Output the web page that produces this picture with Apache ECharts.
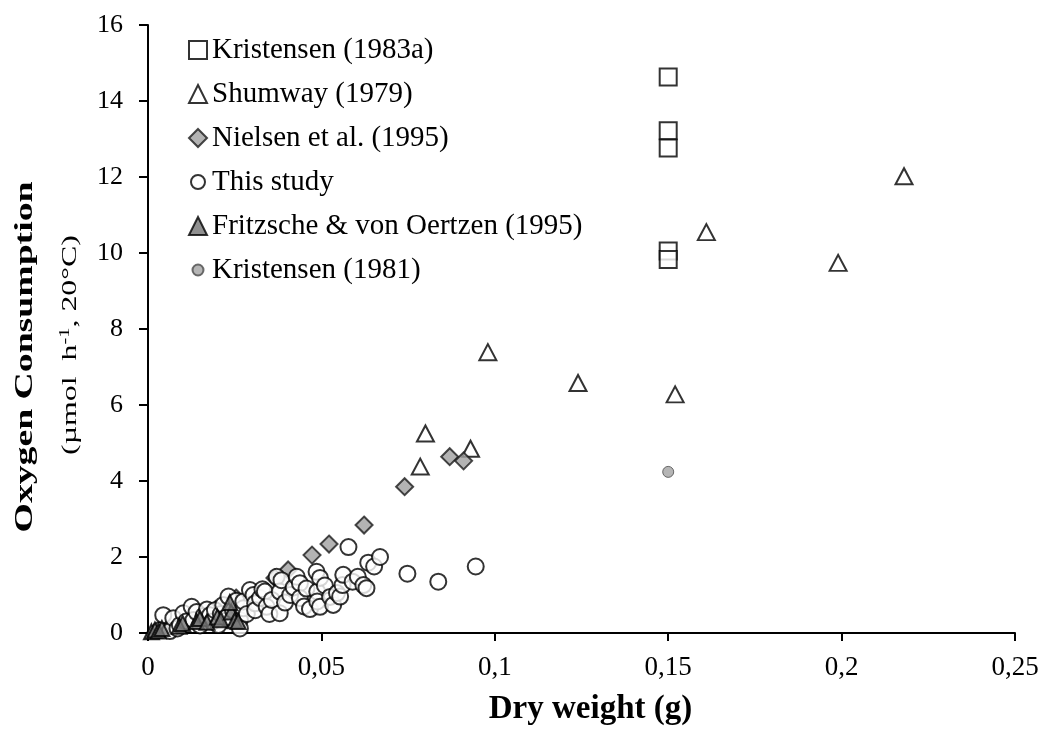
<!DOCTYPE html>
<html>
<head>
<meta charset="utf-8">
<script src="https://cdn.jsdelivr.net/npm/echarts@6/dist/echarts.min.js"></script>
<style>
html,body{margin:0;padding:0;background:#fff;}
#chart{width:1058px;height:730px;}
</style>
</head>
<body>
<div id="chart"></div>
<script>
// ---- data ----
const seriesNames = ['Kristensen (1983a)', 'Shumway (1979)', 'Nielsen et al. (1995)', 'This study', 'Fritzsche & von Oertzen (1995)', 'Kristensen (1981)'];
const xTickValues = [0, 0.05, 0.1, 0.15, 0.2, 0.25];
const yTickValues = [0, 2, 4, 6, 8, 10, 12, 14, 16];
const xTitle = 'Dry weight (g)';
const yTitle1 = 'Oxygen Consumption';
const yTitle2 = '(µmol  h{sup|-1}, 20°C)';

const kristensen1983a = [[0.15,14.63],[0.15,13.22],[0.15,12.76],[0.15,10.05],[0.15,9.83]];
const shumway1979 = [[0.218,12.02],[0.199,9.74],[0.161,10.55],[0.098,7.39],[0.124,6.58],[0.152,6.28],[0.080,5.25],[0.093,4.85],[0.0785,4.38]];
const nielsen1995 = [[0.087,4.64],[0.091,4.53],[0.074,3.85],[0.0623,2.84],[0.0522,2.34],[0.0473,2.05],[0.0404,1.66],[0.0366,1.45],[0.0254,0.92],[0.0195,0.62]];
const thisStudy = [
 [0.0035,0.08],[0.0044,0.47],[0.0063,0.05],[0.0073,0.39],[0.0085,0.12],[0.0092,0.21],[0.0102,0.52],[0.0110,0.30],
 [0.0126,0.69],[0.0131,0.34],[0.0140,0.55],[0.0150,0.20],[0.0160,0.45],[0.0170,0.62],[0.0179,0.47],[0.0185,0.30],
 [0.0193,0.60],[0.0203,0.21],[0.0210,0.50],[0.0217,0.74],[0.0225,0.40],[0.0232,0.96],[0.0245,0.60],[0.0255,0.85],
 [0.0265,0.34],[0.0265,0.12],[0.0275,0.65],[0.0275,0.83],[0.0285,0.50],[0.0294,1.13],[0.0304,1.00],[0.0309,0.78],
 [0.0309,0.60],[0.0323,0.92],[0.0330,1.15],[0.0337,1.09],[0.0342,0.69],[0.0350,0.50],[0.0357,0.87],[0.0371,1.48],
 [0.0380,1.09],[0.0380,0.52],[0.0385,1.39],[0.0395,0.80],[0.0410,1.00],[0.0420,1.20],[0.0429,1.48],[0.0438,1.31],
 [0.0438,0.92],[0.0450,0.70],[0.0457,1.17],[0.0467,0.63],[0.0486,1.61],[0.0488,1.09],[0.0488,0.83],[0.0496,1.45],
 [0.0496,0.69],[0.0510,1.25],[0.0525,0.95],[0.0534,0.74],[0.0545,1.05],[0.0554,0.96],[0.0561,1.26],[0.0563,1.53],
 [0.0578,2.26],[0.0590,1.35],[0.0605,1.48],[0.0621,1.26],[0.0630,1.18],[0.0635,1.85],[0.0652,1.75],[0.0669,2.00],
 [0.0748,1.56],[0.0837,1.35],[0.0945,1.75]
];
const fritzsche1995 = [[0.001,0.03],[0.002,0.08],[0.003,0.05],[0.004,0.12],[0.009,0.18],[0.010,0.25],[0.014,0.30],[0.015,0.38],
 [0.017,0.28],[0.020,0.42],[0.021,0.35],[0.024,0.55],[0.0236,0.80],[0.025,0.32],[0.026,0.30]];
const kristensen1981 = [[0.15,4.24]];

// ---- chart ----
const serif = '"Liberation Serif", "Times New Roman", Times, serif';
const chart = echarts.init(document.getElementById('chart'));
const open = {color:'#ffffff', borderColor:'#000000', borderWidth:2};
const smallDotIcon = 'path://M0,0M18,18M3.5,9A5.5,5.5 0 1,0 14.5,9A5.5,5.5 0 1,0 3.5,9Z';
const circleIcon = 'path://M0,0M18,18M2,9A7,7 0 1,0 16,9A7,7 0 1,0 2,9Z';

chart.setOption({
  animation:false,
  backgroundColor:'#ffffff',
  grid:{left:148,right:43,top:25,bottom:97,containLabel:false,outerBoundsMode:'none'},
  legend:{
    orient:'vertical', left:183, top:30,
    itemWidth:18, itemHeight:18, itemGap:14,
    textStyle:{fontFamily:serif, fontSize:29, color:'#000', lineHeight:30},
    data:[
      {name:seriesNames[0]},
      {name:seriesNames[1]},
      {name:seriesNames[2]},
      {name:seriesNames[3], icon:circleIcon},
      {name:seriesNames[4]},
      {name:seriesNames[5], icon:smallDotIcon}
    ]
  },
  xAxis:{
    type:'value', min:0, max:0.25, interval:0.05,
    name:xTitle, nameLocation:'middle', nameGap:60,
    nameTextStyle:{fontFamily:serif, fontSize:33, fontWeight:'bold', color:'#000', padding:[0,0,0,18]},
    axisLine:{show:true, lineStyle:{color:'#000', width:2}},
    axisTick:{show:true, inside:false, length:8, lineStyle:{color:'#000', width:2}},
    splitLine:{show:false},
    axisLabel:{fontFamily:serif, fontSize:27, color:'#000', margin:21,
      formatter:function(v){return String(v).replace('.', ',');}}
  },
  yAxis:{
    type:'value', min:0, max:16, interval:2,
    axisLine:{show:true, lineStyle:{color:'#000', width:2}},
    axisTick:{show:true, inside:false, length:9, lineStyle:{color:'#000', width:2}},
    splitLine:{show:false},
    axisLabel:{fontFamily:serif, fontSize:26, color:'#000', margin:25}
  },
  graphic:[
    {type:'text', x:25, y:357, rotation:Math.PI/2, scaleX:1.45, scaleY:1,
     style:{text:yTitle1, fontFamily:serif, fontSize:26, fontWeight:'bold', fill:'#000', align:'center', verticalAlign:'middle'}},
    {type:'text', x:70, y:345, rotation:Math.PI/2, scaleX:1.45, scaleY:1,
     style:{text:yTitle2, fontFamily:serif, fontSize:22, fill:'#000', align:'center', verticalAlign:'middle',
       rich:{sup:{fontFamily:serif, fontSize:14, fill:'#000', verticalAlign:'top', padding:[0,0,10,0]}}}}
  ],
  series:[
    {name:seriesNames[0], type:'scatter', data:kristensen1983a, symbol:'rect', symbolSize:17, clip:false, itemStyle:open},
    {name:seriesNames[1], type:'scatter', data:shumway1979, symbol:'triangle', symbolSize:[17,16], clip:false, itemStyle:open},
    {name:seriesNames[2], type:'scatter', data:nielsen1995, symbol:'diamond', symbolSize:17, clip:false,
      itemStyle:{color:'#a0a0a0', borderColor:'#1a1a1a', borderWidth:2}},
    {name:seriesNames[3], type:'scatter', data:thisStudy, symbol:'circle', symbolSize:16, clip:false, itemStyle:open},
    {name:seriesNames[4], type:'scatter', data:fritzsche1995, symbol:'triangle', symbolSize:[15,15], clip:false,
      itemStyle:{color:'#747474', borderColor:'#000', borderWidth:2}},
    {name:seriesNames[5], type:'scatter', data:kristensen1981, symbol:'circle', symbolSize:11, clip:false,
      itemStyle:{color:'#a3a3a3', borderColor:'#4a4a4a', borderWidth:1}}
  ]
});
</script>
</body>
</html>
